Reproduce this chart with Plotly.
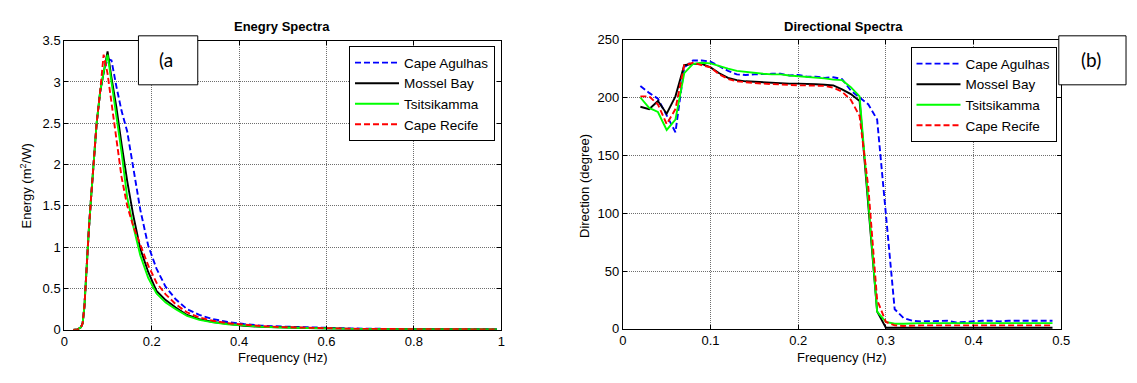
import plotly.graph_objects as go

W, H = 1137, 383

# ---------------- data ----------------
series_names = ["Cape Agulhas", "Mossel Bay", "Tsitsikamma", "Cape Recife"]
series_colors = ["#0000FF", "#000000", "#00FF00", "#FF0000"]
series_dash = ["6px,3px", "solid", "solid", "6px,3px"]

# (a) Energy spectra
freq_energy = [0.02, 0.03, 0.038, 0.042, 0.046, 0.051, 0.056, 0.061, 0.067, 0.074,
               0.082, 0.09, 0.099, 0.108, 0.119, 0.131, 0.144, 0.158, 0.174, 0.192,
               0.211, 0.232, 0.255, 0.281, 0.309, 0.34, 0.374, 0.411, 0.452, 0.497,
               0.547, 0.6, 0.66, 0.73, 0.8, 0.88, 0.99]
energy_agulhas = [0, 0.005, 0.03, 0.08, 0.28, 0.8, 1.2, 1.58, 2.05, 2.5,
                  2.88, 3.12, 3.28, 3.26, 2.95, 2.65, 2.4, 1.95, 1.45, 1.02,
                  0.74, 0.52, 0.37, 0.25, 0.18, 0.13, 0.095, 0.07, 0.05, 0.04,
                  0.03, 0.022, 0.016, 0.012, 0.01, 0.008, 0.006]
energy_mossel = [0, 0.005, 0.03, 0.08, 0.28, 0.8, 1.2, 1.58, 2.05, 2.5,
                 2.88, 3.12, 3.37, 3.05, 2.7, 2.25, 1.8, 1.38, 0.98, 0.7,
                 0.47, 0.36, 0.27, 0.18, 0.13, 0.095, 0.07, 0.05, 0.037, 0.028,
                 0.021, 0.016, 0.012, 0.009, 0.007, 0.005, 0.004]
energy_tsitsikamma = [0, 0.005, 0.03, 0.08, 0.28, 0.8, 1.2, 1.58, 2.05, 2.5,
                      2.88, 3.12, 3.33, 3.0, 2.6, 2.15, 1.6, 1.25, 0.9, 0.63,
                      0.44, 0.33, 0.25, 0.17, 0.12, 0.09, 0.068, 0.05, 0.037, 0.028,
                      0.021, 0.016, 0.012, 0.009, 0.007, 0.005, 0.004]
energy_recife = [0, 0.005, 0.03, 0.08, 0.28, 0.8, 1.2, 1.58, 2.05, 2.5,
                 2.88, 3.33, 3.1, 2.75, 2.3, 1.85, 1.5, 1.25, 1.03, 0.78,
                 0.57, 0.43, 0.31, 0.21, 0.15, 0.11, 0.08, 0.06, 0.045, 0.033,
                 0.025, 0.018, 0.013, 0.01, 0.008, 0.006, 0.005]

# (b) Directional spectra
freq_dir = [0.02, 0.03, 0.04, 0.05, 0.06, 0.07, 0.08, 0.09, 0.10, 0.11,
            0.12, 0.13, 0.14, 0.15, 0.16, 0.17, 0.18, 0.19, 0.20, 0.21,
            0.22, 0.23, 0.24, 0.25, 0.26, 0.27, 0.28, 0.29, 0.30, 0.31,
            0.32, 0.33, 0.34, 0.35, 0.36, 0.37, 0.38, 0.39, 0.40, 0.41,
            0.42, 0.43, 0.44, 0.45, 0.46, 0.47, 0.48, 0.49]
dir_agulhas = [210, 204, 199, 184, 170, 226, 232, 232, 231, 227,
               223, 220, 219.5, 220, 220.5, 220.5, 220.5, 219, 219.5, 218,
               218, 217, 217.5, 216, 206, 200, 194, 181, 97, 17,
               9.5, 7, 6.5, 6.5, 7, 7, 5.5, 6, 7, 7,
               7, 6.5, 7, 7, 7, 6.5, 7, 7]
dir_mossel = [192, 190, 197, 186, 201, 228, 229, 229, 226, 221,
              217, 215, 214, 213.5, 213, 212.5, 212, 212, 212, 212,
              211.5, 211, 210.5, 207, 203, 197, 108, 15, 1, 1,
              1, 1, 1, 1, 1, 1, 1, 1, 1, 1,
              1, 1, 1, 1, 1, 1, 1, 1]
dir_tsitsikamma = [200, 191, 187.5, 172, 181, 221, 229, 230, 229.5, 227,
                   225, 223, 222, 221, 220.5, 220, 220, 219, 218.5, 217.5,
                   217, 216.5, 215.5, 215, 209, 201, 110, 15, 6, 4.5,
                   4.5, 5, 5, 5, 5, 4.5, 4.5, 4.5, 4.5, 4.5,
                   4.5, 4.5, 5, 5, 5, 5, 5, 5]
dir_recife = [201, 201, 194, 177, 190, 228, 230, 228, 226, 220,
              216, 214, 213, 212.5, 212, 211.5, 211, 211, 210.5, 210.5,
              210.5, 210, 208.5, 205, 198, 184, 122, 25, 6, 3,
              2.5, 3, 3, 3, 3, 3, 3, 3, 3, 3,
              3, 3, 3, 3.5, 3.5, 3.5, 3, 3]

energy_series = [energy_agulhas, energy_mossel, energy_tsitsikamma, energy_recife]
dir_series = [dir_agulhas, dir_mossel, dir_tsitsikamma, dir_recife]

# ---------------- layout helpers ----------------
def px(x):
    return x / W

def py(y):
    return 1 - y / H

FONT = "Liberation Sans, Arial, sans-serif"

fig = go.Figure()

for name, col, dash, vals in zip(series_names, series_colors, series_dash, energy_series):
    fig.add_trace(go.Scatter(x=freq_energy, y=vals, mode="lines", name=name,
                             line=dict(color=col, width=1.9, dash=dash),
                             xaxis="x", yaxis="y", legend="legend"))

for name, col, dash, vals in zip(series_names, series_colors, series_dash, dir_series):
    fig.add_trace(go.Scatter(x=freq_dir, y=vals, mode="lines", name=name,
                             line=dict(color=col, width=1.9, dash=dash),
                             xaxis="x2", yaxis="y2", legend="legend2"))

axis_common = dict(showline=True, linecolor="black", linewidth=1, mirror="ticks",
                   ticks="inside", ticklen=4, tickcolor="black",
                   showgrid=True, gridcolor="#6e6e6e", griddash="1px,1px", gridwidth=1,
                   zeroline=False, tickfont=dict(family=FONT, size=13, color="black"))

fig.update_layout(
    width=W, height=H,
    margin=dict(l=0, r=0, t=0, b=0),
    paper_bgcolor="white", plot_bgcolor="white",
    font=dict(family=FONT, size=13, color="black"),
    xaxis=dict(domain=[px(61), px(503)], range=[0, 1], tickvals=[0, 0.2, 0.4, 0.6, 0.8, 1],
               ticktext=["0", "0.2", "0.4", "0.6", "0.8", "1"], anchor="y", **axis_common),
    yaxis=dict(domain=[py(336), py(35)], range=[0, 3.5],
               tickvals=[0, 0.5, 1, 1.5, 2, 2.5, 3, 3.5],
               ticktext=["0", "0.5", "1", "1.5", "2", "2.5", "3", "3.5"], anchor="x", **axis_common),
    xaxis2=dict(domain=[px(626), px(1069.5)], range=[0, 0.5],
                tickvals=[0, 0.1, 0.2, 0.3, 0.4, 0.5],
                ticktext=["0", "0.1", "0.2", "0.3", "0.4", "0.5"], anchor="y2", **axis_common),
    yaxis2=dict(domain=[py(335), py(34)], range=[0, 250],
                tickvals=[0, 50, 100, 150, 200, 250], anchor="x2", **axis_common),
    legend=dict(x=px(349), y=py(41), xanchor="left", yanchor="top",
                bgcolor="white", bordercolor="black", borderwidth=1,
                font=dict(family=FONT, size=13.5), itemwidth=44, tracegroupgap=0),
    legend2=dict(x=px(917), y=py(42), xanchor="left", yanchor="top",
                 bgcolor="white", bordercolor="black", borderwidth=1,
                 font=dict(family=FONT, size=13.5), itemwidth=44, tracegroupgap=0),
    showlegend=True,
)

def ann(text, x, y, size=13, angle=0, family=FONT):
    return dict(text=text, x=px(x), y=py(y), xref="paper", yref="paper",
                xanchor="center", yanchor="middle", showarrow=False,
                textangle=angle, font=dict(family=family, size=size, color="black"))

annotations = [
    ann("<b>Enegry Spectra</b>", 281, 20),
    ann("<b>Directional Spectra</b>", 849, 20),
    ann("Frequency (Hz)", 282, 365),
    ann("Frequency (Hz)", 848, 365),
    ann("Energy (m<sup>2</sup>/W)", 22, 186, angle=-90),
    ann("Direction (degree)", 587, 186, angle=-90),
    ann("(a", 164, 55, size=19, family="Lato, Open Sans, sans-serif"),
    ann("(b)", 1100, 55, size=19, family="Lato, Open Sans, sans-serif"),
]
fig.update_layout(annotations=annotations)

shapes = [
    dict(type="rect", xref="paper", yref="paper", x0=px(136), x1=px(196), y0=py(81), y1=py(30),
         line=dict(color="black", width=1), fillcolor="white", layer="above"),
    dict(type="rect", xref="paper", yref="paper", x0=px(1067), x1=px(1135), y0=py(81), y1=py(30),
         line=dict(color="black", width=1), fillcolor="white", layer="above"),
]
fig.update_layout(shapes=shapes)

fig.write_html("out.html")
